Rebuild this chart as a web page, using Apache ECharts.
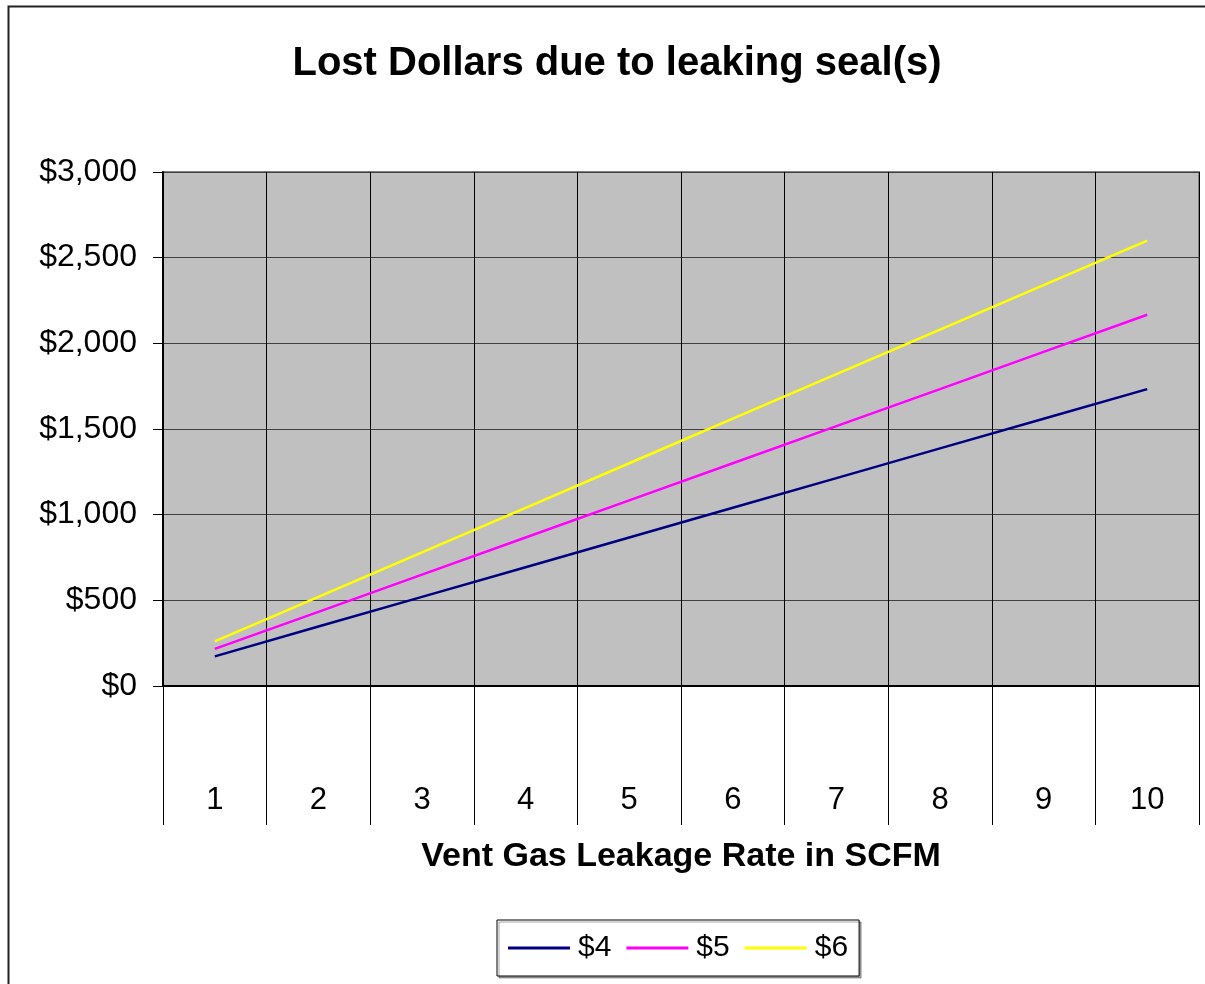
<!DOCTYPE html>
<html>
<head>
<meta charset="utf-8">
<script src="https://cdn.jsdelivr.net/npm/echarts@6/dist/echarts.min.js"></script>
<style>
html,body{margin:0;padding:0;background:#fff;}
#chart{width:1205px;height:984px;}
</style>
</head>
<body>
<div id="chart"></div>
<script>
var categories = ['1','2','3','4','5','6','7','8','9','10'];
var seriesNames = ['$4','$5','$6'];
var values4 = [173, 347, 520, 693, 867, 1040, 1213, 1387, 1560, 1733];
var values5 = [217, 433, 650, 867, 1083, 1300, 1517, 1733, 1950, 2167];
var values6 = [260, 520, 780, 1040, 1300, 1560, 1820, 2080, 2340, 2600];
var yTicks = [0, 500, 1000, 1500, 2000, 2500, 3000];

var FONT = '"Liberation Sans", Arial, sans-serif';
var chart = echarts.init(document.getElementById('chart'), null, {renderer: 'canvas'});

function money(v){
  return '$' + String(v).replace(/\B(?=(\d{3})+(?!\d))/g, ',');
}

var option = {
  animation: false,
  backgroundColor: '#ffffff',
  title: {
    text: 'Lost Dollars due to leaking seal(s)',
    left: 617,
    top: 44,
    textAlign: 'center',
    padding: 0,
    textStyle: {fontFamily: FONT, fontSize: 40, fontWeight: 'bold', color: '#000'}
  },
  graphic: [{
    type: 'rect',
    shape: {x: 8.5, y: 6.5, width: 1300, height: 1100},
    style: {fill: 'none', stroke: '#222', lineWidth: 2},
    silent: true,
    z: -10
  }],
  legend: {
    left: 497,
    top: 920,
    padding: [13, 11, 13, 11],
    itemGap: 15,
    itemWidth: 62,
    itemHeight: 3,
    icon: 'rect',
    borderColor: '#000',
    borderWidth: 1,
    shadowColor: 'rgba(0,0,0,0.35)',
    shadowOffsetX: 2,
    shadowOffsetY: 2,
    shadowBlur: 0,
    backgroundColor: '#fff',
    textStyle: {fontFamily: FONT, fontSize: 30, color: '#000', padding: [0,0,0,3]},
    data: seriesNames
  },
  grid: {
    left: 163,
    right: 6,
    top: 172,
    bottom: 298,
    show: true,
    backgroundColor: '#C0C0C0',
    borderColor: '#808080',
    borderWidth: 2
  },
  xAxis: {
    type: 'category',
    data: categories,
    boundaryGap: true,
    name: 'Vent Gas Leakage Rate in SCFM',
    nameLocation: 'middle',
    nameGap: 154,
    nameTextStyle: {fontFamily: FONT, fontSize: 34, fontWeight: 'bold', color: '#000'},
    axisLine: {show: true, lineStyle: {color: '#000', width: 2}},
    axisTick: {show: true, inside: false, length: 139, lineStyle: {color: '#000', width: 1}},
    axisLabel: {margin: 99, fontFamily: FONT, fontSize: 31, color: '#000'},
    splitLine: {show: true, lineStyle: {color: '#000', width: 1}}
  },
  yAxis: {
    type: 'value',
    min: 0,
    max: 3000,
    interval: 500,
    axisLine: {show: true, lineStyle: {color: '#000', width: 2}},
    axisTick: {show: true, inside: false, length: 10, lineStyle: {color: '#000', width: 1}},
    axisLabel: {
      margin: 26,
      fontFamily: FONT,
      fontSize: 32,
      color: '#000',
      formatter: function(v){ return yTicks.indexOf(v) >= 0 ? money(v) : ''; }
    },
    splitLine: {show: true, lineStyle: {color: '#404040', width: 1}}
  },
  series: [
    {name: seriesNames[0], type: 'line', data: values4, symbol: 'none', lineStyle: {color: '#000080', width: 2.5}, itemStyle: {color: '#000080'}},
    {name: seriesNames[1], type: 'line', data: values5, symbol: 'none', lineStyle: {color: '#FF00FF', width: 2.5}, itemStyle: {color: '#FF00FF'}},
    {name: seriesNames[2], type: 'line', data: values6, symbol: 'none', lineStyle: {color: '#FFFF00', width: 2.5}, itemStyle: {color: '#FFFF00'}}
  ]
};
chart.setOption(option);
</script>
</body>
</html>
